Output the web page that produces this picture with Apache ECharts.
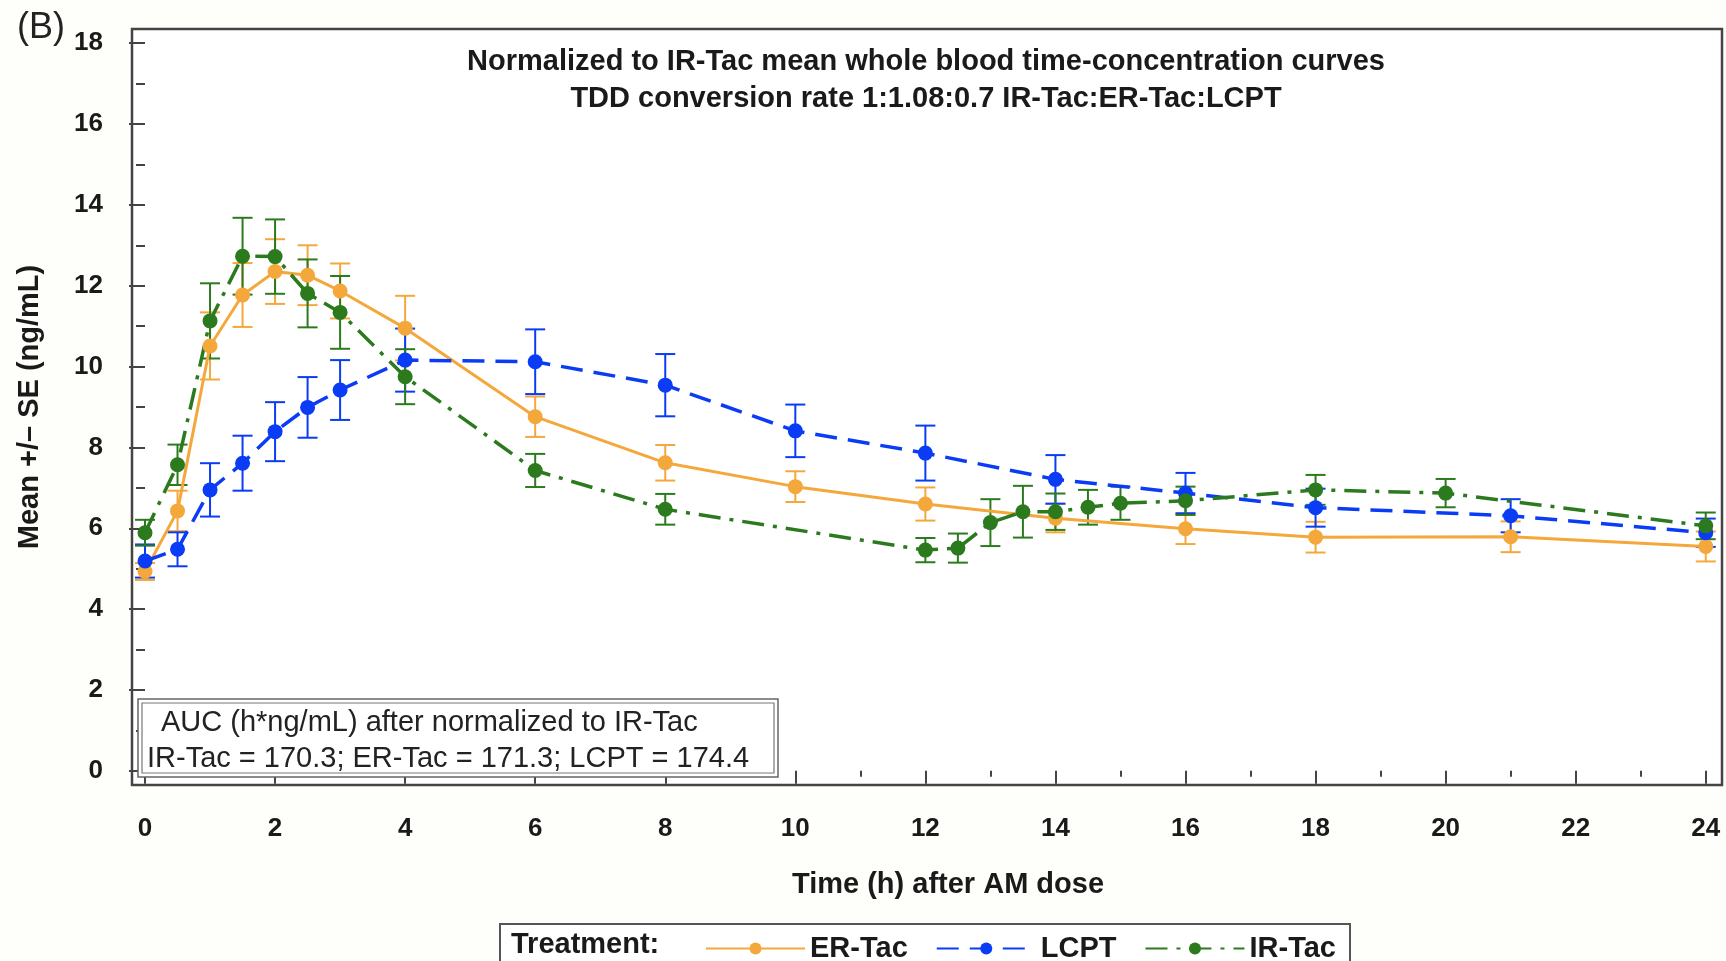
<!DOCTYPE html>
<html>
<head>
<meta charset="utf-8">
<title>Normalized to IR-Tac mean whole blood time-concentration curves</title>
<script src="https://cdn.jsdelivr.net/npm/echarts@6/dist/echarts.min.js"></script>
<style>
  html, body { margin: 0; padding: 0; background: #fefefa; }
  #chart { width: 1726px; height: 961px; }
</style>
</head>
<body>
<div id="chart"></div>
<script>
  // 时间点 (h)
  const erTime = [0, 0.5, 1, 1.5, 2, 2.5, 3, 4, 6, 8, 10, 12, 14, 16, 18, 21, 24];
  const erMean = [4.93, 6.43, 10.51, 11.77, 12.35, 12.26, 11.87, 10.95, 8.76, 7.62, 7.03, 6.60, 6.25, 5.99, 5.78, 5.79, 5.55];
  const erSE   = [0.21, 0.50, 0.83, 0.79, 0.80, 0.74, 0.68, 0.80, 0.50, 0.44, 0.38, 0.41, 0.35, 0.38, 0.38, 0.38, 0.37];

  const lcptTime = [0, 0.5, 1, 1.5, 2, 2.5, 3, 4, 6, 8, 10, 12, 14, 16, 18, 21, 24];
  const lcptMean = [5.19, 5.48, 6.95, 7.61, 8.39, 8.99, 9.42, 10.16, 10.12, 9.54, 8.41, 7.86, 7.21, 6.87, 6.51, 6.31, 5.89];
  const lcptSE   = [0.41, 0.42, 0.66, 0.68, 0.73, 0.75, 0.74, 0.78, 0.80, 0.77, 0.65, 0.68, 0.60, 0.50, 0.47, 0.41, 0.35];

  const irTime = [0, 0.5, 1, 1.5, 2, 2.5, 3, 4, 6, 8, 12, 12.5, 13, 13.5, 14, 14.5, 15, 16, 18, 20, 24];
  const irMean = [5.89, 7.57, 11.13, 12.73, 12.72, 11.81, 11.34, 9.75, 7.43, 6.47, 5.46, 5.51, 6.14, 6.41, 6.41, 6.52, 6.62, 6.68, 6.95, 6.87, 6.06];
  const irSE   = [0.32, 0.50, 0.93, 0.95, 0.92, 0.84, 0.90, 0.68, 0.41, 0.38, 0.30, 0.36, 0.58, 0.64, 0.45, 0.43, 0.41, 0.35, 0.37, 0.35, 0.33];

  const xTicks = [0, 2, 4, 6, 8, 10, 12, 14, 16, 18, 20, 22, 24];
  const xMinor = [1, 3, 5, 7, 9, 11, 13, 15, 17, 19, 21, 23];
  const yTicks = [0, 2, 4, 6, 8, 10, 12, 14, 16, 18];
  const yMinor = [1, 3, 5, 7, 9, 11, 13, 15, 17];

  const titleLines = ['Normalized to IR-Tac mean whole blood time-concentration curves',
                      'TDD conversion rate 1:1.08:0.7 IR-Tac:ER-Tac:LCPT'];
  const aucLines = ['AUC (h*ng/mL) after normalized to IR-Tac',
                    'IR-Tac = 170.3; ER-Tac = 171.3; LCPT = 174.4'];

  const FONT = "'Liberation Sans', Arial, sans-serif";
  const ORANGE = '#f4a83c', BLUE = '#0a3cf5', GREEN = '#2c7a1e';

  const chart = echarts.init(document.getElementById('chart'));

  function pairs(t, v) {
    return t.map(function (x, i) { return [x, v[i]]; });
  }
  function bars(t, m, se) {
    return t.map(function (x, i) { return [x, m[i] - se[i], m[i] + se[i]]; });
  }
  function errorBar(color) {
    return function (params, api) {
      const x = api.value(0);
      const top = api.coord([x, api.value(2)]);
      const bot = api.coord([x, api.value(1)]);
      const w = 10;
      const st = { stroke: color, lineWidth: 2 };
      return {
        type: 'group',
        children: [
          { type: 'line', shape: { x1: top[0], y1: top[1], x2: bot[0], y2: bot[1] }, style: st },
          { type: 'line', shape: { x1: top[0] - w, y1: top[1], x2: top[0] + w, y2: top[1] }, style: st },
          { type: 'line', shape: { x1: bot[0] - w, y1: bot[1], x2: bot[0] + w, y2: bot[1] }, style: st }
        ]
      };
    };
  }

  const tickStyle = { color: '#444', width: 2 };
  const labelStyle = { fontFamily: FONT, fontWeight: 'bold', fontSize: 26, color: '#1a1a1a' };

  chart.setOption({
    animation: false,
    backgroundColor: '#fefefa',
    grid: {
      left: 132, right: 4, top: 29, bottom: 176,
      show: true, backgroundColor: '#fff', borderColor: '#444', borderWidth: 2.5
    },
    xAxis: [
      {
        type: 'value', min: -0.2, max: 24.25,
        axisLine: { show: false }, splitLine: { show: false },
        axisTick: { show: true, customValues: xTicks, length: 13, lineStyle: tickStyle },
        axisLabel: Object.assign({ customValues: xTicks, margin: 31 }, labelStyle)
      },
      {
        type: 'value', min: -0.2, max: 24.25, position: 'bottom',
        axisLine: { show: false }, splitLine: { show: false },
        axisTick: { show: true, customValues: xMinor, length: 6, lineStyle: tickStyle },
        axisLabel: { show: false }
      }
    ],
    yAxis: [
      {
        type: 'value', min: -0.35, max: 18.35,
        axisLine: { show: false }, splitLine: { show: false },
        axisTick: { show: true, customValues: yTicks, length: 16, lineStyle: tickStyle },
        axisLabel: Object.assign({ customValues: yTicks, margin: 29 }, labelStyle),
        name: 'Mean +/\u2013 SE (ng/mL)', nameLocation: 'middle', nameGap: 88, nameRotate: 90,
        nameTextStyle: { fontFamily: FONT, fontWeight: 'bold', fontSize: 29, color: '#1a1a1a' }
      },
      {
        type: 'value', min: -0.35, max: 18.35, position: 'left',
        axisLine: { show: false }, splitLine: { show: false },
        axisTick: { show: true, customValues: yMinor, length: 9, lineStyle: tickStyle },
        axisLabel: { show: false }
      }
    ],
    legend: {
      data: ['ER-Tac', 'LCPT', 'IR-Tac'],
      left: 700, top: 929,
      itemWidth: 99, itemHeight: 15, itemGap: 28,
      textStyle: { fontFamily: FONT, fontWeight: 'bold', fontSize: 29, color: '#1a1a1a' }
    },
    graphic: [
      { type: 'text', x: 41, y: 28, style: { text: '(B)', font: '36px ' + FONT, fill: '#222', align: 'center', verticalAlign: 'middle' } },
      { type: 'text', x: 926, y: 62, z: 10, style: { text: titleLines[0], font: 'bold 29px ' + FONT, fill: '#1a1a1a', align: 'center', verticalAlign: 'middle' } },
      { type: 'text', x: 926, y: 99, z: 10, style: { text: titleLines[1], font: 'bold 29px ' + FONT, fill: '#1a1a1a', align: 'center', verticalAlign: 'middle' } },
      { type: 'text', x: 948, y: 885, style: { text: 'Time (h) after AM dose', font: 'bold 29px ' + FONT, fill: '#1a1a1a', align: 'center', verticalAlign: 'middle' } },
      // AUC box
      { type: 'rect', z: 10, shape: { x: 138, y: 699, width: 640, height: 78 }, style: { fill: '#fff', stroke: '#666', lineWidth: 1.5 } },
      { type: 'rect', z: 10, shape: { x: 142, y: 703, width: 632, height: 70 }, style: { fill: 'none', stroke: '#777', lineWidth: 1.2 } },
      { type: 'text', z: 11, x: 161, y: 723, style: { text: aucLines[0], font: '29px ' + FONT, fill: '#222', verticalAlign: 'middle' } },
      { type: 'text', z: 11, x: 147, y: 759, style: { text: aucLines[1], font: '29px ' + FONT, fill: '#222', verticalAlign: 'middle' } },
      // legend box
      { type: 'rect', shape: { x: 500, y: 924, width: 850, height: 50 }, style: { fill: '#fff', stroke: '#555', lineWidth: 2 } },
      { type: 'text', x: 511, y: 945, style: { text: 'Treatment:', font: 'bold 29px ' + FONT, fill: '#1a1a1a', verticalAlign: 'middle' } }
    ],
    series: [
      {
        name: 'ER-Tac SE', type: 'custom', renderItem: errorBar(ORANGE),
        data: bars(erTime, erMean, erSE), encode: { x: 0, y: [1, 2] }, z: 2
      },
      {
        name: 'LCPT SE', type: 'custom', renderItem: errorBar(BLUE),
        data: bars(lcptTime, lcptMean, lcptSE), encode: { x: 0, y: [1, 2] }, z: 2
      },
      {
        name: 'IR-Tac SE', type: 'custom', renderItem: errorBar(GREEN),
        data: bars(irTime, irMean, irSE), encode: { x: 0, y: [1, 2] }, z: 2
      },
      {
        name: 'ER-Tac', type: 'line', data: pairs(erTime, erMean),
        symbol: 'circle', symbolSize: 15, z: 3,
        itemStyle: { color: ORANGE },
        lineStyle: { color: ORANGE, width: 3, type: 'solid' }
      },
      {
        name: 'LCPT', type: 'line', data: pairs(lcptTime, lcptMean),
        symbol: 'circle', symbolSize: 15, z: 3,
        itemStyle: { color: BLUE },
        lineStyle: { color: BLUE, width: 3.5, type: [22, 11] }
      },
      {
        name: 'IR-Tac', type: 'line', data: pairs(irTime, irMean),
        symbol: 'circle', symbolSize: 15, z: 3,
        itemStyle: { color: GREEN },
        lineStyle: { color: GREEN, width: 3.5, type: [22, 9, 4, 9] }
      }
    ]
  });
</script>
</body>
</html>
